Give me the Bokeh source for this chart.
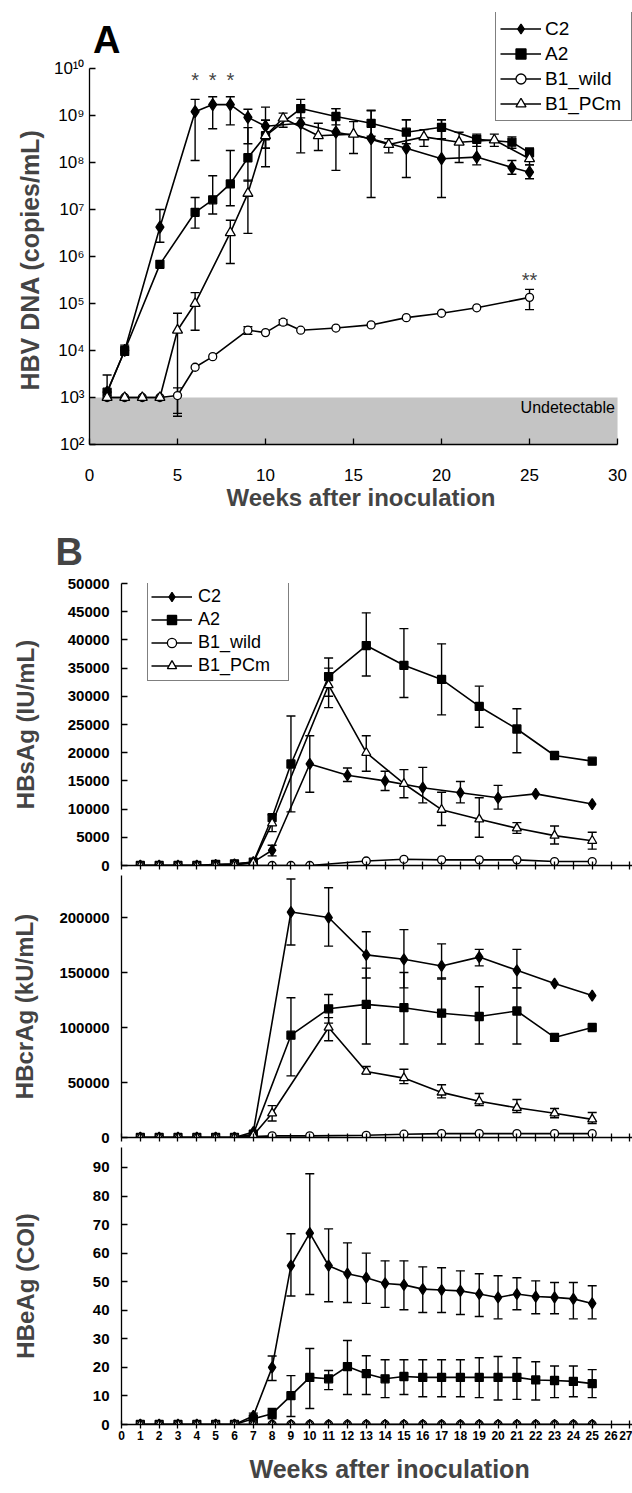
from bokeh.plotting import figure
from bokeh.layouts import column
from bokeh.models import (ColumnDataSource, Whisker, TeeHead, Legend, LegendItem,
                          FixedTicker, Range1d, Title, BasicTickFormatter)
from bokeh.core.properties import value
from bokeh.embed import file_html
from bokeh.resources import INLINE

FONT = "Liberation Sans"

# ======================= DATA =======================
series = ["C2", "A2", "B1_wild", "B1_PCm"]

# ---- Panel A: HBV DNA (copies/mL) ----
dna_c2_weeks = [1, 2, 4, 6, 7, 8, 9, 10, 12, 14, 16, 18, 20, 22, 24, 25]
dna_c2 = [1.3e3, 1.0e4, 4.2e6, 1.2e9, 1.7e9, 1.7e9, 9.1e8, 5.9e8, 6.8e8, 4.4e8, 3.2e8, 2.0e8, 1.2e8, 1.3e8, 7.8e7, 6.2e7]
dna_c2_hi = [3.0e3, 1.3e4, 1.0e7, 2.2e9, 2.5e9, 2.5e9, 1.35e9, 1.5e9, 1.26e9, 1.4e9, 1.26e9, 8.1e8, 8.1e8, 3.2e8, 1.1e8, 8.9e7]
dna_c2_lo = [8.9e2, 7.9e3, 2.0e6, 1.1e8, 5.2e8, 6.3e8, 2.5e8, 8.1e7, 1.6e8, 6.8e7, 1.8e7, 4.8e7, 1.8e7, 8.9e7, 5.6e7, 4.5e7]

dna_a2_weeks = [1, 2, 4, 6, 7, 8, 9, 10, 12, 14, 16, 18, 20, 22, 24, 25]
dna_a2 = [1.3e3, 1.0e4, 6.8e5, 8.7e6, 1.6e7, 3.5e7, 1.26e8, 3.7e8, 1.4e9, 9.5e8, 6.8e8, 4.4e8, 5.6e8, 3.1e8, 2.7e8, 1.6e8]
dna_a2_hi = [None, None, None, 1.8e7, 5.2e7, 1.8e8, 5.5e8, 7.9e8, 2.2e9, 1.4e9, 1.3e9, 8.1e8, 8.1e8, 4.0e8, 3.5e8, 2.0e8]
dna_a2_lo = [None, None, None, 4.0e6, 8.0e6, 1.2e7, 4.0e7, 2.0e8, 8.9e8, 6.3e8, 3.6e8, 2.5e8, 3.2e8, 2.2e8, 2.0e8, 1.1e8]

dna_wild_weeks = [1, 2, 3, 4, 5, 6, 7, 9, 10, 11, 12, 14, 16, 18, 20, 22, 25]
dna_wild = [1.0e3, 1.0e3, 1.0e3, 1.0e3, 1.1e3, 4.4e3, 7.4e3, 2.7e4, 2.4e4, 4.0e4, 2.7e4, 3.0e4, 3.5e4, 5.0e4, 6.2e4, 8.1e4, 1.35e5]
dna_wild_hi = [None, None, None, None, 1.6e3, None, None, 3.2e4, None, 4.5e4, None, None, None, None, None, None, 2.0e5]
dna_wild_lo = [None, None, None, None, 4.6e2, None, None, 2.2e4, None, 3.5e4, None, None, None, None, None, None, 7.4e4]

dna_pcm_weeks = [1, 2, 3, 4, 5, 6, 8, 9, 10, 11, 13, 15, 17, 19, 21, 23, 25]
dna_pcm = [1.0e3, 1.0e3, 1.0e3, 1.0e3, 2.7e4, 1.0e5, 3.2e6, 2.2e7, 3.7e8, 8.7e8, 3.7e8, 4.0e8, 2.4e8, 3.5e8, 2.7e8, 3.0e8, 1.2e8]
dna_pcm_hi = [None, None, None, None, 6.2e4, 1.7e5, 5.9e6, 4.2e7, 7.9e8, 1.12e9, 6.8e8, 7.4e8, 3.2e8, 5.0e8, 4.4e8, 4.0e8, 2.0e8]
dna_pcm_lo = [None, None, None, None, 4.0e2, 2.7e4, 7.1e5, 3.1e6, 2.0e8, 5.6e8, 1.8e8, 1.55e8, 1.6e8, 2.2e8, 1.0e8, 2.2e8, 8.9e7]

dna_sig_weeks = [6, 7, 8, 25]
dna_sig_text = ["*", "*", "*", "**"]
dna_sig_y = [5.7e9, 5.7e9, 5.7e9, 3.1e5]

dna_week_ticks = [0, 5, 10, 15, 20, 25, 30]
dna_ticks = [1e2, 1e3, 1e4, 1e5, 1e6, 1e7, 1e8, 1e9, 1e10]
dna_tick_labels = ["10²", "10³", "10⁴", "10⁵", "10⁶", "10⁷", "10⁸", "10⁹", "10¹⁰"]
dna_floor = 1e2
dna_limit = 1e3
band_label = "Undetectable"
panel_a_label = "A"
panel_b_label = "B"

# ---- Panel B ----
b_week_ticks = list(range(0, 28))

# HBsAg (IU/mL)
hbs_c2_weeks = [1, 2, 3, 4, 5, 6, 7, 8, 10, 12, 14, 16, 18, 20, 22, 25]
hbs_c2 = [0, 0, 0, 0, 100, 200, 600, 2700, 18000, 16000, 15000, 13800, 12900, 12000, 12700, 10900]
hbs_c2_hi = [None, None, None, None, None, None, None, 3600, 23000, 17300, 16700, 17400, 14900, 14200, None, None]
hbs_c2_lo = [None, None, None, None, None, None, None, 1700, 13000, 14900, 13300, 11100, 11100, 10000, None, None]

hbs_a2_weeks = [1, 2, 3, 4, 5, 6, 7, 8, 9, 11, 13, 15, 17, 19, 21, 23, 25]
hbs_a2 = [0, 0, 0, 0, 200, 300, 600, 8500, 18000, 33500, 39000, 35500, 33000, 28200, 24200, 19500, 18500]
hbs_a2_hi = [None, None, None, None, None, None, None, None, 26500, 36800, 44800, 42000, 39300, 31800, 27800, None, None]
hbs_a2_lo = [None, None, None, None, None, None, None, None, 9500, 30000, 33600, 29800, 26700, 24500, 20000, None, None]

hbs_wild_weeks = [1, 2, 3, 4, 5, 6, 7, 8, 9, 10, 13, 15, 17, 19, 21, 23, 25]
hbs_wild = [0, 0, 0, 0, 0, 0, 0, 0, 0, 0, 800, 1100, 1000, 1000, 1000, 700, 700]

hbs_pcm_weeks = [1, 2, 3, 4, 5, 6, 7, 8, 11, 13, 15, 17, 19, 21, 23, 25]
hbs_pcm = [0, 0, 0, 0, 0, 100, 500, 7500, 32000, 20000, 14500, 9900, 8200, 6600, 5300, 4400]
hbs_pcm_hi = [None, None, None, None, None, None, None, 9000, 35000, 23000, 17000, 13000, 12000, 7600, 7000, 5900]
hbs_pcm_lo = [None, None, None, None, None, None, None, 6000, 28000, 16700, 12000, 7100, 5000, 5700, 3800, 2900]

hbs_ticks = [0, 5000, 10000, 15000, 20000, 25000, 30000, 35000, 40000, 45000, 50000]

# HBcrAg (kU/mL)
hbcr_c2_weeks = [1, 2, 3, 4, 5, 6, 7, 9, 11, 13, 15, 17, 19, 21, 23, 25]
hbcr_c2 = [0, 0, 0, 0, 0, 0, 5000, 205000, 200000, 166000, 162000, 156000, 164000, 152000, 140000, 129000]
hbcr_c2_hi = [None, None, None, None, None, None, None, 235000, 227000, 187000, 189000, 176000, 171000, 171000, None, None]
hbcr_c2_lo = [None, None, None, None, None, None, None, 175000, 174000, 145000, 136000, 144000, 156000, 136000, None, None]

hbcr_a2_weeks = [1, 2, 3, 4, 5, 6, 7, 9, 11, 13, 15, 17, 19, 21, 23, 25]
hbcr_a2 = [0, 0, 0, 0, 0, 0, 3000, 93000, 117000, 121000, 118000, 113000, 110000, 115000, 91000, 100000]
hbcr_a2_hi = [None, None, None, None, None, None, None, 127000, 130000, 154000, 150000, 145000, 137000, 136000, None, None]
hbcr_a2_lo = [None, None, None, None, None, None, None, 56000, 104000, 85000, 85000, 85000, 85000, 85000, None, None]

hbcr_wild_weeks = [1, 2, 3, 4, 5, 6, 8, 10, 13, 15, 17, 19, 21, 23, 25]
hbcr_wild = [0, 0, 0, 0, 0, 0, 1500, 1500, 2000, 3000, 3500, 3500, 3500, 3500, 3500]

hbcr_pcm_weeks = [1, 2, 3, 4, 5, 6, 7, 8, 11, 13, 15, 17, 19, 21, 23, 25]
hbcr_pcm = [0, 0, 0, 0, 0, 0, 2000, 22000, 100000, 60000, 54000, 41000, 33000, 27000, 22000, 16500]
hbcr_pcm_hi = [None, None, None, None, None, None, None, 29000, 109000, 64500, 62000, 48000, 40000, 34500, 26400, 22700]
hbcr_pcm_lo = [None, None, None, None, None, None, None, 15000, 88000, 58000, 49000, 36000, 29000, 22700, 18000, 12700]

hbcr_ticks = [0, 50000, 100000, 150000, 200000]

# HBeAg (COI)
hbe_weeks = list(range(1, 26))
hbe_c2 = [0, 0, 0, 0, 0, 0, 3, 20, 55.6, 67, 55.6, 52.8, 51.4, 49.4, 48.9, 47.4, 47.1, 46.8, 45.7, 44.5, 45.7, 44.8, 44.5, 44, 42.4]
hbe_c2_hi = [None, None, None, None, None, None, 4, 24, 66.8, 87.8, 68.5, 63.6, 60, 57.3, 57.3, 55.2, 54.9, 53.8, 52.8, 52.1, 51.4, 50.3, 49.7, 49.7, 48.6]
hbe_c2_lo = [None, None, None, None, None, None, 2, 15.4, 45, 45.5, 43, 42.7, 42.4, 41, 40.2, 39.2, 39.2, 38.5, 37.8, 37, 40.2, 38.8, 38.8, 37, 37]
hbe_a2 = [0, 0, 0, 0, 0, 0, 2, 3.8, 10.1, 16.5, 16, 20.3, 17.8, 16, 16.8, 16.5, 16.5, 16.5, 16.5, 16.5, 16.5, 15.6, 15.4, 15.1, 14.3]
hbe_a2_hi = [None, None, None, None, None, None, None, 5.6, 17.1, 26.6, 18.9, 29.4, 24.1, 22.7, 22.7, 22.7, 22.7, 22.7, 23.4, 23.8, 23.4, 22, 20.5, 20.5, 19.2]
hbe_a2_lo = [None, None, None, None, None, None, None, 2, 2.8, 5.6, 12.2, 10.5, 10.5, 9.4, 10.5, 9.7, 9.7, 9.7, 9.4, 8.6, 8.8, 8.6, 9.4, 9.7, 9.4]
hbe_wild = [0] * 25
hbe_pcm = [0] * 25

hbe_ticks = [0, 10, 20, 30, 40, 50, 60, 70, 80, 90]

# ======================= STYLE =======================
STYLE_A = {"C2": ("diamond", 12, "black"), "A2": ("square", 8, "black"),
           "B1_wild": ("circle", 8, "white"), "B1_PCm": ("triangle", 10, "white")}
STYLE_B = {"C2": ("diamond", 11, "black"), "A2": ("square", 8, "black"),
           "B1_wild": ("circle", 8, "white"), "B1_PCm": ("triangle", 9, "white")}


def add_series(p, weeks, vals, hi, lo, style):
    marker, size, fill = style
    src = ColumnDataSource(data=dict(week=weeks, val=vals))
    ln = p.line("week", "val", source=src, line_color="black", line_width=1.6)
    if hi is not None:
        idx = [i for i, h in enumerate(hi) if h is not None]
        esrc = ColumnDataSource(data=dict(week=[weeks[i] for i in idx],
                                          upper=[hi[i] for i in idx],
                                          lower=[lo[i] for i in idx]))
        p.add_layout(Whisker(source=esrc, base="week", upper="upper", lower="lower",
                             line_color="black", line_width=1.4,
                             upper_head=TeeHead(size=9, line_color="black", line_width=1.4),
                             lower_head=TeeHead(size=9, line_color="black", line_width=1.4)))
    pts = p.scatter("week", "val", source=src, marker=marker, size=size,
                    fill_color=fill, line_color="black", line_width=1.3)
    return [ln, pts]


def style_common(p):
    p.outline_line_color = None
    p.xgrid.grid_line_color = None
    p.ygrid.grid_line_color = None
    p.background_fill_color = "white"
    p.border_fill_color = "white"
    for ax in (p.xaxis, p.yaxis):
        ax.axis_line_width = 1.3
        ax.major_tick_line_width = 1.3
        ax.minor_tick_line_color = None
        ax.major_label_text_font = FONT
        ax.axis_label_text_font = FONT
        ax.major_label_text_color = "black"


# ======================= PANEL A =======================
# frame: x 89..632 px (17.6 px/week), y 12..444 px (1e10 at 68 px, 47 px/decade)
pA = figure(width=632, height=519, x_range=Range1d(0, 30.85),
            y_range=Range1d(dna_floor, 10 ** 11.19), y_axis_type="log",
            output_backend="svg", toolbar_location=None, title=None,
            min_border_left=89, min_border_right=0, min_border_top=12, min_border_bottom=75)
style_common(pA)

pA.varea(x=[dna_week_ticks[0], dna_week_ticks[-1]], y1=[dna_floor, dna_floor],
         y2=[dna_limit, dna_limit], fill_color="#c4c4c4", level="image")
pA.text(x=[dna_week_ticks[-1] - 0.15], y=[dna_limit * 10 ** -0.22], text=[band_label],
        text_align="right", text_baseline="middle", text_font=value(FONT),
        text_font_size="16px", text_color="black")

rA = {}
rA["C2"] = add_series(pA, dna_c2_weeks, dna_c2, dna_c2_hi, dna_c2_lo, STYLE_A["C2"])
rA["A2"] = add_series(pA, dna_a2_weeks, dna_a2, dna_a2_hi, dna_a2_lo, STYLE_A["A2"])
rA["B1_wild"] = add_series(pA, dna_wild_weeks, dna_wild, dna_wild_hi, dna_wild_lo, STYLE_A["B1_wild"])
rA["B1_PCm"] = add_series(pA, dna_pcm_weeks, dna_pcm, dna_pcm_hi, dna_pcm_lo, STYLE_A["B1_PCm"])

pA.text(x=dna_sig_weeks, y=dna_sig_y, text=dna_sig_text, text_align="center",
        text_baseline="alphabetic", text_font=value(FONT), text_font_size="20px",
        text_color="#444444")

# panel letter
pA.text(x=[0.2], y=[10 ** 10.6], text=[panel_a_label], text_align="left",
        text_baseline="alphabetic", text_font=value(FONT), text_font_size="38px",
        text_font_style="bold", text_color="black")

pA.xaxis.ticker = FixedTicker(ticks=dna_week_ticks)
pA.xaxis.bounds = (dna_week_ticks[0], dna_week_ticks[-1])
pA.xaxis.major_tick_in = 6
pA.xaxis.major_tick_out = 0
pA.xaxis.major_label_text_font_size = "17px"
pA.xaxis.major_label_standoff = 24
pA.xaxis.axis_label = "Weeks after inoculation"
pA.xaxis.axis_label_text_font_size = "24px"
pA.xaxis.axis_label_text_font_style = "bold"
pA.xaxis.axis_label_standoff = 0

pA.yaxis.ticker = FixedTicker(ticks=dna_ticks)
pA.yaxis.bounds = (dna_ticks[0], dna_ticks[-1])
pA.yaxis.major_label_overrides = dict(zip(dna_ticks, dna_tick_labels))
pA.yaxis.major_tick_in = 6
pA.yaxis.major_tick_out = 0
pA.yaxis.major_label_text_font_size = "17px"
pA.yaxis.major_label_standoff = 5
# y-axis title placed along the bounded part of the axis
pA.add_layout(Title(text="HBV DNA (copies/mL)", text_font=FONT, text_font_size="25px",
                    text_font_style="bold", align="left", offset=54, standoff=14), "left")

legA = Legend(items=[LegendItem(label=n, renderers=rA[n]) for n in series],
              location=(406, 323), label_text_font=FONT, label_text_font_size="19px",
              label_text_color="black",
              label_height=25, glyph_height=25, glyph_width=41, spacing=0, padding=4,
              label_standoff=4, label_width=82, margin=0, border_line_color="black",
              border_line_width=1, background_fill_color="white", background_fill_alpha=1.0)
pA.add_layout(legA)

# ======================= PANEL B =======================
# frames: x 121..632 px (18.83 px/week)
xb = Range1d(0, 27.14)


def make_b(height, top, bottom, y_end, ticks, label, label_standoff, show_x_labels):
    p = figure(width=632, height=height, x_range=xb, y_range=Range1d(0, y_end),
               output_backend="svg", toolbar_location=None, title=None,
               min_border_left=121, min_border_right=0, min_border_top=top,
               min_border_bottom=bottom)
    style_common(p)
    p.xaxis.ticker = FixedTicker(ticks=b_week_ticks)
    p.xaxis.major_tick_in = 4
    p.xaxis.major_tick_out = 4
    if show_x_labels:
        p.xaxis.major_label_text_font_size = "12px"
        p.xaxis.major_label_text_font_style = "bold"
        p.xaxis.major_label_standoff = 2
    else:
        p.xaxis.major_label_text_color = None
        p.xaxis.major_label_text_font_size = "1px"
        p.xaxis.major_label_standoff = 0
    p.yaxis.ticker = FixedTicker(ticks=ticks)
    p.yaxis.formatter = BasicTickFormatter(use_scientific=False)
    p.yaxis.major_tick_in = 6
    p.yaxis.major_tick_out = 0
    p.yaxis.major_label_text_font_size = "15px"
    p.yaxis.major_label_text_font_style = "bold"
    p.yaxis.major_label_standoff = 12
    p.yaxis.axis_label = label
    p.yaxis.axis_label_text_font_size = "24px"
    p.yaxis.axis_label_text_font_style = "bold"
    p.yaxis.axis_label_standoff = label_standoff
    return p


# HBsAg: frame 583..865 ; HBcrAg: frame 875..1137 ; HBeAg: frame 1147..1424
pB1 = make_b(356, 64, 10, hbs_ticks[-1], hbs_ticks, "HBsAg (IU/mL)", 26, False)
pB1.title = Title(text=panel_b_label, text_font=FONT, text_font_size="38px", text_font_style="bold",
                  align="left", offset=-66, standoff=18, vertical_align="top")
rB = {}
rB["C2"] = add_series(pB1, hbs_c2_weeks, hbs_c2, hbs_c2_hi, hbs_c2_lo, STYLE_B["C2"])
rB["A2"] = add_series(pB1, hbs_a2_weeks, hbs_a2, hbs_a2_hi, hbs_a2_lo, STYLE_B["A2"])
rB["B1_wild"] = add_series(pB1, hbs_wild_weeks, hbs_wild, None, None, STYLE_B["B1_wild"])
rB["B1_PCm"] = add_series(pB1, hbs_pcm_weeks, hbs_pcm, hbs_pcm_hi, hbs_pcm_lo, STYLE_B["B1_PCm"])
legB = Legend(items=[LegendItem(label=n, renderers=rB[n]) for n in series],
              location=(26, 184), label_text_font=FONT, label_text_font_size="18px",
              label_text_color="black",
              label_height=23, glyph_height=23, glyph_width=41, spacing=0, padding=3,
              label_standoff=6, label_width=87, margin=0, border_line_color="black",
              border_line_width=1, background_fill_color="white", background_fill_alpha=1.0)
pB1.add_layout(legB)

pB2 = make_b(272, 0, 10, 238200, hbcr_ticks, "HBcrAg (kU/mL)", 18, False)
add_series(pB2, hbcr_c2_weeks, hbcr_c2, hbcr_c2_hi, hbcr_c2_lo, STYLE_B["C2"])
add_series(pB2, hbcr_a2_weeks, hbcr_a2, hbcr_a2_hi, hbcr_a2_lo, STYLE_B["A2"])
add_series(pB2, hbcr_wild_weeks, hbcr_wild, None, None, STYLE_B["B1_wild"])
add_series(pB2, hbcr_pcm_weeks, hbcr_pcm, hbcr_pcm_hi, hbcr_pcm_lo, STYLE_B["B1_PCm"])

pB3 = make_b(346, 0, 69, 97.0, hbe_ticks, "HBeAg (COI)", 51, True)
add_series(pB3, hbe_weeks, hbe_c2, hbe_c2_hi, hbe_c2_lo, STYLE_B["C2"])
add_series(pB3, hbe_weeks, hbe_a2, hbe_a2_hi, hbe_a2_lo, STYLE_B["A2"])
add_series(pB3, hbe_weeks, hbe_wild, None, None, STYLE_B["B1_wild"])
add_series(pB3, hbe_weeks, hbe_pcm, None, None, STYLE_B["B1_PCm"])
pB3.add_layout(Title(text="Weeks after inoculation", text_font=FONT, text_font_size="25px",
                     text_font_style="bold", align="left", offset=128, standoff=20), "below")

colB = column(pB1, pB2, pB3, spacing=0)
open("out.html", "w").write(file_html([pA, colB], INLINE))
